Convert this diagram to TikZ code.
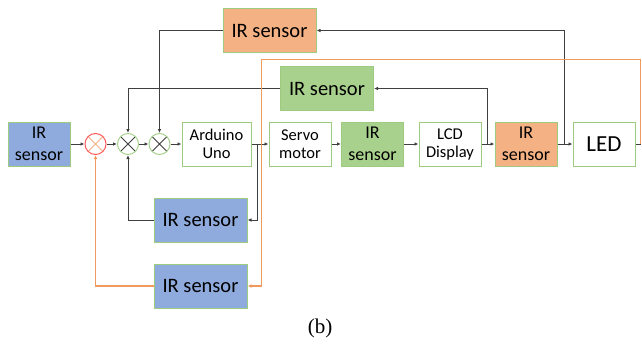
\documentclass[tikz,border=0pt]{standalone}
\usepackage{fontspec}
\setmainfont{Carlito}
\newfontfamily\capfont{Liberation Serif}
\usepackage{tikz}
\usetikzlibrary{arrows.meta,positioning}
\definecolor{Edge}{HTML}{9DCB80}
\definecolor{Blue}{HTML}{8FAADC}
\definecolor{Green}{HTML}{A9D18E}
\definecolor{Orange}{HTML}{F4B183}
\definecolor{Wire}{HTML}{3F3F3F}
\definecolor{Fb}{HTML}{F29A5E}
\definecolor{Ring}{HTML}{FF5B5B}

\begin{document}
\begin{tikzpicture}[x=1pt,y=-1pt,
  blk/.style={draw=Edge,line width=1pt,inner sep=0pt,align=center},
  big/.style={blk,minimum width=93pt,minimum height=44pt,font=\fontsize{20.5}{24}\selectfont},
  small/.style={blk,minimum width=62pt,minimum height=44pt,font=\fontsize{16.5}{18}\selectfont},
  two/.style={blk,minimum width=62pt,minimum height=44pt,font=\fontsize{18}{22}\selectfont},
  junct/.style 2 args={circle,draw=#1,line width=1pt,minimum size=21pt,inner sep=0pt,
    path picture={\draw[#2,line width=0.9pt] (path picture bounding box.north west) -- (path picture bounding box.south east)
      (path picture bounding box.north east) -- (path picture bounding box.south west);}},
  wire/.style={Wire,line width=0.9pt,-{Latex[length=4pt,width=3.5pt]}},
  fb/.style={Fb,line width=1.2pt,-{Latex[length=4pt,width=3.5pt]}}]
  \useasboundingbox (0,0) rectangle (642,343);

  % main row
  \node[two,fill=Blue] (irIn) at (39,144) {IR\\sensor};
  \node[junct={Ring}{Orange}] (sumR) at (95.5,144) {};
  \node[junct={Green}{Wire}] (sumA) at (128,144) {};
  \node[junct={Green}{Wire}] (sumB) at (159.5,144) {};
  \node[small,minimum width=69pt] (uno) at (216.5,144) {Arduino\\Uno};
  \node[small] (servo) at (300,144) {Servo\\motor};
  \node[two,fill=Green] (irMain) at (372.5,144) {IR\\sensor};
  \node[small] (lcd) at (450,144) {LCD\\Display};
  \node[two,fill=Orange] (irOut) at (526,144) {IR\\sensor};
  \node[two,minimum width=62pt,font=\fontsize{23}{26}\selectfont] (led) at (604,144) {LED};

  % feedback sensors
  \node[big,fill=Orange] (irTop) at (269.5,30.5) {IR sensor};
  \node[big,fill=Green] (irMid) at (327,88.5) {IR sensor};
  \node[big,fill=Blue] (irLowA) at (200.5,220) {IR sensor};
  \node[big,fill=Blue] (irLowB) at (200.5,286) {IR sensor};

  \draw[wire] (irIn) -- (sumR);
  \draw[wire] (sumR) -- (sumA);
  \draw[wire] (sumA) -- (sumB);
  \draw[wire] (sumB) -- (uno);
  \draw[wire] (uno) -- (servo);
  \draw[wire] (servo) -- (irMain);
  \draw[wire] (irMain) -- (lcd);
  \draw[wire] (lcd) -- (irOut);
  \draw[wire] (irOut) -- (led);

  % black loops
  \coordinate (tapA) at (257,144);
  \coordinate (tapB) at (487,144);
  \coordinate (tapC) at (564,144);
  \draw[wire] (tapA) |- (irLowA.east);
  \draw[wire] (irLowA.west) -| (sumA.south);
  \draw[wire] (tapB) |- (irMid.east);
  \draw[wire] (irMid.west) -| (sumA.north);
  \draw[wire] (tapC) |- (irTop.east);
  \draw[wire] (irTop.west) -| (sumB.north);

  % orange loop
  \coordinate (tapD) at (640.5,144);
  \coordinate (fbR) at (640.5,59.5);
  \coordinate (fbL) at (261.5,59.5);
  \draw[Wire,line width=0.9pt] (led.east) -- (tapD);
  \draw[fb] (tapD) -- (fbR) -- (fbL) |- (irLowB.east);
  \draw[fb] (irLowB.west) -| (sumR.south);

  \node[font=\capfont\fontsize{21}{24}\selectfont] (cap) at (320,328) {(b)};
\end{tikzpicture}
\end{document}
